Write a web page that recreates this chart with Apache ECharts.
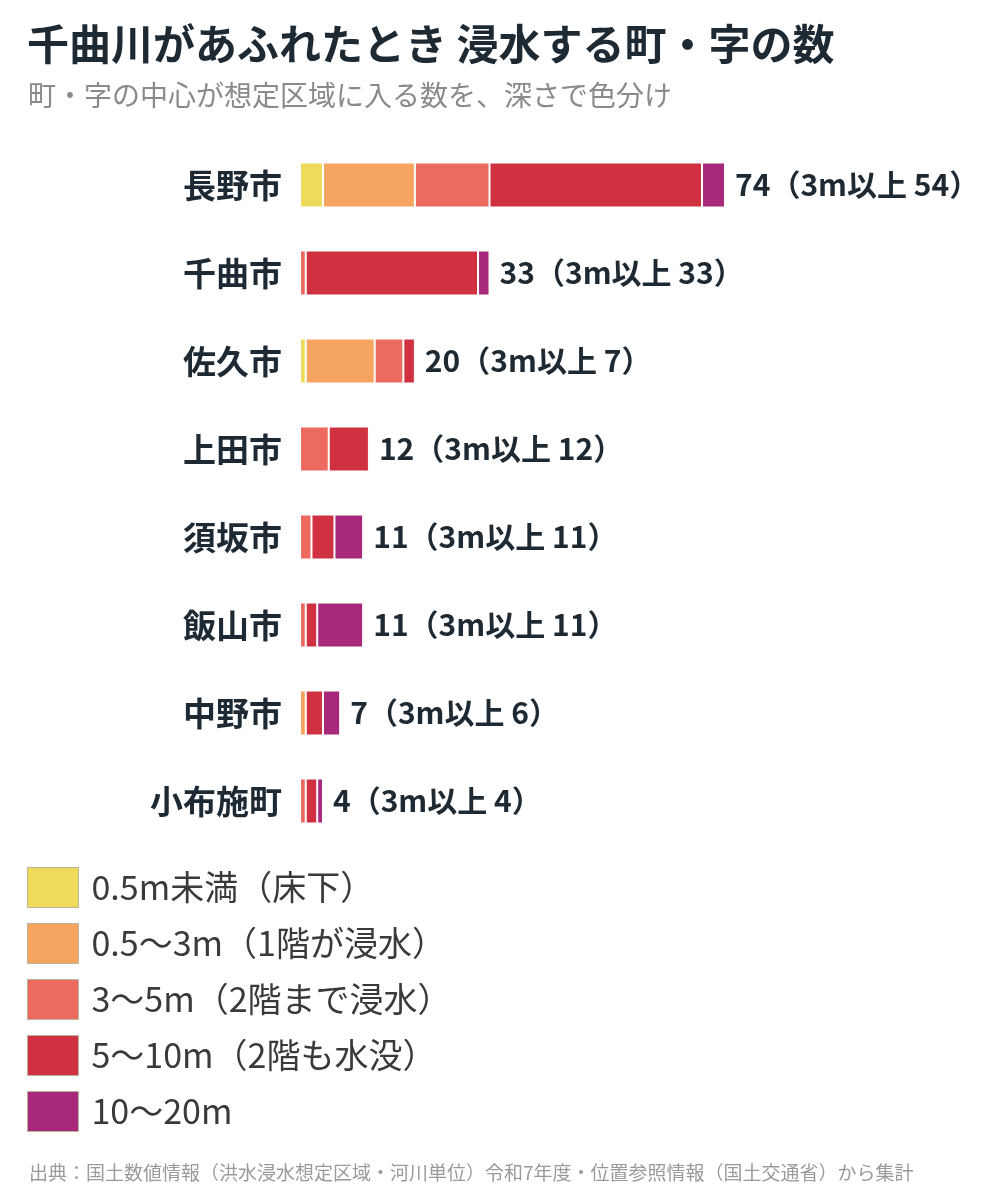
<!DOCTYPE html>
<html><head><meta charset="utf-8">
<script src="https://cdn.jsdelivr.net/npm/echarts@6/dist/echarts.min.js"></script>
<style>html,body{margin:0;padding:0;background:#fff}#c{width:1000px;height:1198px}</style>
</head><body><div id="c"></div>
<script>
const categories = ['長野市','千曲市','佐久市','上田市','須坂市','飯山市','中野市','小布施町'];
const seriesNames = ['0.5m未満（床下）','0.5～3m（1階が浸水）','3～5m（2階まで浸水）','5～10m（2階も水没）','10～20m'];
const colors = ['#EFDB5B','#F6A560','#EC6A5F','#CF3141','#A8297C'];
const below05 = [4,0,1,0,0,0,0,0];
const d05to3  = [16,0,12,0,0,0,1,0];
const d3to5   = [13,1,5,5,2,1,0,1];
const d5to10  = [37,30,2,7,4,2,3,2];
const d10to20 = [4,2,0,0,5,8,3,1];
const totals  = [74,33,20,12,11,11,7,4];
const over3m  = [54,33,7,12,11,11,6,4];

const FONT = '"Noto Sans CJK JP", "Noto Sans", sans-serif';
const dataSets = [below05,d05to3,d3to5,d5to10,d10to20];
const series = dataSets.map((arr,i)=>({
  name: seriesNames[i], type:'bar', stack:'a', barWidth: 45,
  itemStyle:{color:colors[i], borderColor:'#fff', borderWidth:1},
  data: arr.map(v=> v===0 ? '-' : v)
}));
series.push({
  name:'total', type:'bar', stack:'a', barWidth:45,
  itemStyle:{color:'rgba(0,0,0,0)', borderWidth:0},
  label:{show:true, position:'right', distance:10, fontFamily:FONT, fontWeight:'bold', fontSize:30, color:'#1e2a33',
    formatter:p=> totals[p.dataIndex] + '（3m以上 ' + over3m[p.dataIndex] + '）'},
  data: totals.map(()=>0)
});

const chart = echarts.init(document.getElementById('c'), null, {renderer:'canvas'});
chart.setOption({
  animation:false,
  backgroundColor:'#fff',
  title:[
    {text:'千曲川があふれたとき 浸水する町・字の数', left:22, top:18, textStyle:{fontFamily:FONT, fontWeight:'bold', fontSize:42, color:'#1e2a33'}},
    {text:'町・字の中心が想定区域に入る数を、深さで色分け', left:23, top:76, textStyle:{fontFamily:FONT, fontWeight:'normal', fontSize:28, color:'#8a8a8a'}},
    {text:'出典：国土数値情報（洪水浸水想定区域・河川単位）令和7年度・位置参照情報（国土交通省）から集計', left:24, top:1158, textStyle:{fontFamily:FONT, fontWeight:'normal', fontSize:19, color:'#9a9a9a'}}
  ],
  legend:{
    data: seriesNames, orient:'vertical', left:22, top:862, itemWidth:51, itemHeight:40, itemGap:15,
    icon:'rect', selectedMode:false,
    itemStyle:{borderColor:'#b9b39a', borderWidth:1},
    textStyle:{fontFamily:FONT, fontSize:34, color:'#3a3a3a', padding:[0,0,0,8]}
  },
  grid:{left:300, top:141, width:425, height:704},
  xAxis:{type:'value', min:0, max:74, show:false},
  yAxis:{type:'category', data:categories, inverse:true,
    axisLine:{show:false}, axisTick:{show:false}, splitLine:{show:false},
    axisLabel:{margin:18, fontFamily:FONT, fontWeight:'bold', fontSize:33, color:'#1e2a33'}},
  series
});
</script></body></html>
